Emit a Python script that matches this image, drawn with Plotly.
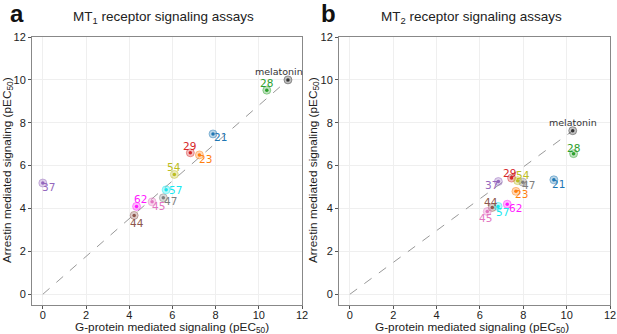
import plotly.graph_objects as go

# ---------------- data ----------------
compounds = ["melatonin", "21", "23", "28", "29", "37", "44", "45", "47", "54", "57", "62"]
colors = ["#333333", "#1f77b4", "#ff7f0e", "#2ca02c", "#d62728", "#9467bd",
          "#8c564b", "#e377c2", "#7f7f7f", "#bcbd22", "#17e8f0", "#ff1aff"]

mt1_gprotein = [11.35, 7.88, 7.25, 10.37, 6.83, 0.0, 4.23, 5.06, 5.58, 6.09, 5.71, 4.34]
mt1_arrestin = [10.0, 7.48, 6.50, 9.52, 6.60, 5.19, 3.68, 4.31, 4.50, 5.59, 4.87, 4.10]

mt2_gprotein = [10.28, 9.41, 7.66, 10.32, 7.46, 6.85, 6.57, 6.34, 7.98, 7.74, 6.84, 7.26]
mt2_arrestin = [7.63, 5.34, 4.80, 6.56, 5.42, 5.26, 4.05, 3.86, 5.23, 5.30, 4.10, 4.20]

tick_vals = [0, 2, 4, 6, 8, 10, 12]

# label offsets in pixels (dx, dy; dy positive = up)
mt1_offsets = [(-9, 8), (7, -3), (6, -4), (0, 7), (-1, 7), (6, -4),
               (3, -8), (6, -4), (7, -3), (0, 7), (9, 0), (4, 7)]
mt2_offsets = [(0, 8), (5, -4), (6, -3), (0, 6), (-2, 5), (-7, -3),
               (-1, 5), (-2, -6), (6, -3), (5, 6), (4, -6), (8, -4)]

W, H = 617, 334


def rgba(hexc, a):
    h = hexc.lstrip("#")
    r, g, b = int(h[0:2], 16), int(h[2:4], 16), int(h[4:6], 16)
    return f"rgba({r},{g},{b},{a})"


def px(x):
    return x / W


def py(y):
    return (H - y) / H


fig = go.Figure()
annotations = []

panels = [
    ("x", "y", mt1_gprotein, mt1_arrestin, mt1_offsets),
    ("x2", "y2", mt2_gprotein, mt2_arrestin, mt2_offsets),
]

for xa, ya, gx, ay, offs in panels:
    fig.add_trace(go.Scatter(
        x=[0, gx[0]], y=[0, ay[0]], mode="lines", xaxis=xa, yaxis=ya,
        line=dict(color="#999999", width=1, dash="dash"), showlegend=False,
        hoverinfo="skip"))
    fig.add_trace(go.Scatter(
        x=gx, y=ay, mode="markers", xaxis=xa, yaxis=ya, showlegend=False,
        marker=dict(size=8, color=[rgba(c, 0.3) for c in colors],
                    line=dict(width=0.8, color=[rgba(c, 0.55) for c in colors]))))
    fig.add_trace(go.Scatter(
        x=gx, y=ay, mode="markers", xaxis=xa, yaxis=ya, showlegend=False,
        marker=dict(size=3.5, color=colors)))
    for name, c, x0, y0, (dx, dy) in zip(compounds, colors, gx, ay, offs):
        annotations.append(dict(
            x=x0, y=y0, xref=xa, yref=ya, text=name, showarrow=False,
            xanchor="center", yanchor="middle",
            xshift=dx, yshift=dy,
            font=dict(family="DejaVu Sans", size=9.5 if name == "melatonin" else 10.5, color=c)))

axis_common = dict(
    range=[-0.5, 12], tickvals=tick_vals, ticks="outside", ticklen=3,
    tickcolor="#555555", showline=True, linecolor="#888888", linewidth=1,
    mirror=True, showgrid=True, gridcolor="#efefef", gridwidth=1,
    zeroline=False, tickfont=dict(family="Liberation Sans", size=11, color="#222222"),
    automargin=False,
)
xaxis_extra = dict(ticklabelstandoff=-3)

xtitle = "G-protein mediated signaling (pEC<sub>50</sub>)"
ytitle = "Arrestin mediated signaling (pEC<sub>50</sub>)"
title_font = dict(family="Liberation Sans", size=11.8, color="#222222")
head_font = dict(family="Liberation Sans", size=13.5, color="#222222")
panel_font = dict(family="Liberation Sans", size=24, color="#111111")

texts = [
    dict(x=px(172), y=py(327), text=xtitle, font=title_font),
    dict(x=px(472), y=py(327), text=xtitle, font=title_font),
    dict(x=px(7), y=py(170), text=ytitle, font=title_font, textangle=-90),
    dict(x=px(313), y=py(170), text=ytitle, font=title_font, textangle=-90),
    dict(x=px(163.5), y=py(17), text="MT<sub>1</sub> receptor signaling assays", font=head_font),
    dict(x=px(471.5), y=py(17), text="MT<sub>2</sub> receptor signaling assays", font=head_font),
    dict(x=px(16.5), y=py(13), text="<b>a</b>", font=panel_font),
    dict(x=px(328), y=py(13), text="<b>b</b>", font=panel_font),
]
for t in texts:
    t.update(xref="paper", yref="paper", showarrow=False, xanchor="center", yanchor="middle")
    annotations.append(t)

fig.update_layout(
    width=W, height=H,
    margin=dict(l=0, r=0, t=0, b=0),
    paper_bgcolor="white", plot_bgcolor="white",
    xaxis=dict(domain=[px(32), px(302)], anchor="y", **axis_common, **xaxis_extra),
    yaxis=dict(domain=[py(305), py(37)], anchor="x", **axis_common),
    xaxis2=dict(domain=[px(339), px(610)], anchor="y2", **axis_common, **xaxis_extra),
    yaxis2=dict(domain=[py(305), py(37)], anchor="x2", **axis_common),
    annotations=annotations,
)

fig.write_html("out.html", config={"displayModeBar": False},
               post_script="document.body.style.margin='0';")
